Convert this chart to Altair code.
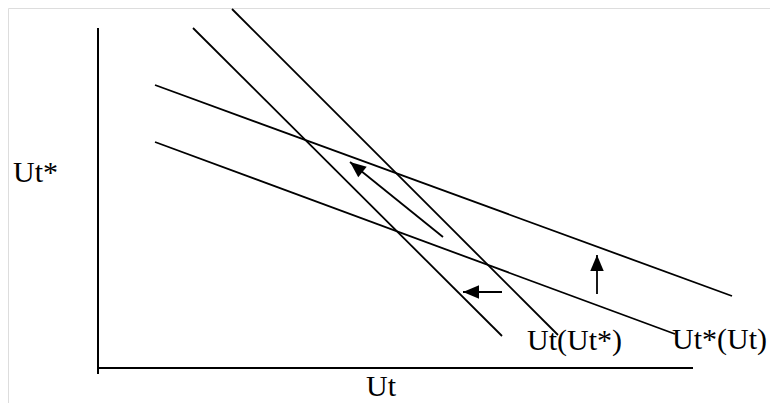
import altair as alt
import numpy as np
import pandas as pd

# Diagram coordinates (origin at the axes' corner, units = px of the reference)
seg_names = ["y axis", "x axis", "Ut(Ut*) new", "Ut(Ut*) old", "Ut*(Ut) new", "Ut*(Ut) old"]
seg_x1 = [0, 0, 95, 134, 57, 57]
seg_y1 = [-6, 0, 340, 359, 283, 226]
seg_x2 = [0, 595, 404, 460, 634, 577]
seg_y2 = [340, 0, 32, 33, 72, 34]
seg_w = [2.0, 2.0, 1.8, 1.8, 1.8, 1.8]

arrow_x1 = [345, 404, 499]
arrow_y1 = [131, 76, 74]
arrow_x2 = [252, 365, 499]
arrow_y2 = [206, 76, 113]

label_text = ["Ut*", "Ut", "Ut(Ut*)", "Ut*(Ut)"]
label_x = [-85, 283, 429, 574]
label_y = [186, -28, 18, 19]
label_align = ["left", "center", "left", "left"]

segs = pd.DataFrame({"name": seg_names, "x": seg_x1, "y": seg_y1,
                     "x2": seg_x2, "y2": seg_y2, "w": seg_w})
arrows = pd.DataFrame({"x": arrow_x1, "y": arrow_y1, "x2": arrow_x2, "y2": arrow_y2})
arrows["angle"] = (np.degrees(np.arctan2(arrows["x2"] - arrows["x"],
                                         arrows["y2"] - arrows["y"])) + 360) % 360
labels = pd.DataFrame({"t": label_text, "x": label_x, "y": label_y, "a": label_align})

W, H = 762, 395
xs = alt.Scale(domain=[-90, 672], nice=False, zero=False)
ys = alt.Scale(domain=[-35, 360], nice=False, zero=False)

rules = alt.Chart(segs).mark_rule(color="black", strokeCap="butt").encode(
    x=alt.X("x:Q", scale=xs, axis=None),
    y=alt.Y("y:Q", scale=ys, axis=None),
    x2="x2:Q", y2="y2:Q",
    strokeWidth=alt.StrokeWidth("w:Q", scale=None),
)

shafts = alt.Chart(arrows).mark_rule(color="black", strokeWidth=1.8).encode(
    x=alt.X("x:Q", scale=xs, axis=None),
    y=alt.Y("y:Q", scale=ys, axis=None),
    x2="x2:Q", y2="y2:Q",
)

heads = alt.Chart(arrows).mark_point(
    shape="M0,0L0.42,1L-0.42,1Z", filled=True, color="black", opacity=1, size=1024
).encode(
    x=alt.X("x2:Q", scale=xs, axis=None),
    y=alt.Y("y2:Q", scale=ys, axis=None),
    angle=alt.Angle("angle:Q", scale=None),
)

texts = []
for al in ["left", "center"]:
    texts.append(
        alt.Chart(labels[labels["a"] == al]).mark_text(
            font="Liberation Serif", fontSize=30, color="black",
            align=al, baseline="alphabetic"
        ).encode(
            x=alt.X("x:Q", scale=xs, axis=None),
            y=alt.Y("y:Q", scale=ys, axis=None),
            text="t:N",
        )
    )

chart = alt.layer(rules, shafts, heads, *texts).properties(
    width=W, height=H, padding=0,
    autosize=alt.AutoSizeParams(type="none"),
).configure_view(stroke=None).configure(background="white")

chart.save("out.html", embed_options={"renderer": "svg", "actions": False})
